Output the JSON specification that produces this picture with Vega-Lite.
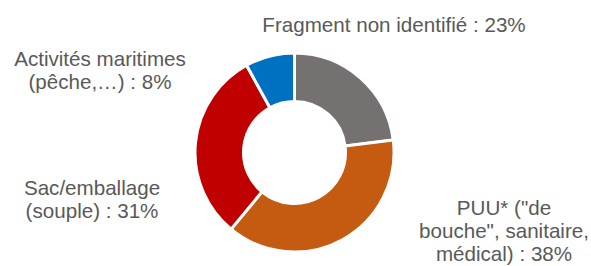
{
  "$schema": "https://vega.github.io/schema/vega-lite/v6.json",
  "width": 589,
  "height": 227,
  "autosize": {"type": "none"},
  "padding": {"left": 0, "top": 39, "right": 2, "bottom": 0},
  "background": "#ffffff",
  "config": {"view": {"stroke": null}},
  "data": {
    "values": [
      {"categorie": "Fragment non identifié", "part": 23, "ordre": 1, "label": "Fragment non identifié : 23%"},
      {"categorie": "PUU* (\"de bouche\", sanitaire, médical)", "part": 38, "ordre": 2, "label": "PUU* (\"de\nbouche\", sanitaire,\nmédical) : 38%"},
      {"categorie": "Sac/emballage (souple)", "part": 31, "ordre": 3, "label": "Sac/emballage\n(souple) : 31%"},
      {"categorie": "Activités maritimes (pêche,…)", "part": 8, "ordre": 4, "label": "Activités maritimes\n(pêche,…) : 8%"}
    ]
  },
  "encoding": {
    "theta": {"field": "part", "type": "quantitative", "stack": true},
    "order": {"field": "ordre", "type": "quantitative"}
  },
  "layer": [
    {
      "mark": {"type": "arc", "innerRadius": 51, "outerRadius": 99.5, "stroke": "#ffffff", "strokeWidth": 3},
      "encoding": {
        "color": {
          "field": "categorie",
          "type": "nominal",
          "scale": {
            "domain": ["Fragment non identifié", "PUU* (\"de bouche\", sanitaire, médical)", "Sac/emballage (souple)", "Activités maritimes (pêche,…)"],
            "range": ["#767171", "#C55A11", "#C00000", "#0070C0"]
          },
          "legend": null
        }
      }
    },
    {
      "mark": {"type": "text", "radius": 156, "thetaOffset": -0.031, "font": "Liberation Sans", "fontSize": 20.6, "fill": "#595959", "align": "center", "baseline": "alphabetic", "lineBreak": "\n", "lineHeight": 22.8},
      "encoding": {"text": {"condition": {"test": "datum.ordre === 1", "field": "label", "type": "nominal"}, "value": ""}}
    },
    {
      "mark": {"type": "text", "radius": 218.7, "thetaOffset": -0.777, "font": "Liberation Sans", "fontSize": 20.6, "fill": "#595959", "align": "center", "baseline": "alphabetic", "lineBreak": "\n", "lineHeight": 22.8},
      "encoding": {"text": {"condition": {"test": "datum.ordre === 2", "field": "label", "type": "nominal"}, "value": ""}}
    },
    {
      "mark": {"type": "text", "radius": 206.9, "thetaOffset": -0.301, "font": "Liberation Sans", "fontSize": 20.6, "fill": "#595959", "align": "center", "baseline": "alphabetic", "lineBreak": "\n", "lineHeight": 22.8},
      "encoding": {"text": {"condition": {"test": "datum.ordre === 3", "field": "label", "type": "nominal"}, "value": ""}}
    },
    {
      "mark": {"type": "text", "radius": 213, "thetaOffset": -0.9, "font": "Liberation Sans", "fontSize": 20.6, "fill": "#595959", "align": "center", "baseline": "alphabetic", "lineBreak": "\n", "lineHeight": 22.8},
      "encoding": {"text": {"condition": {"test": "datum.ordre === 4", "field": "label", "type": "nominal"}, "value": ""}}
    }
  ]
}
